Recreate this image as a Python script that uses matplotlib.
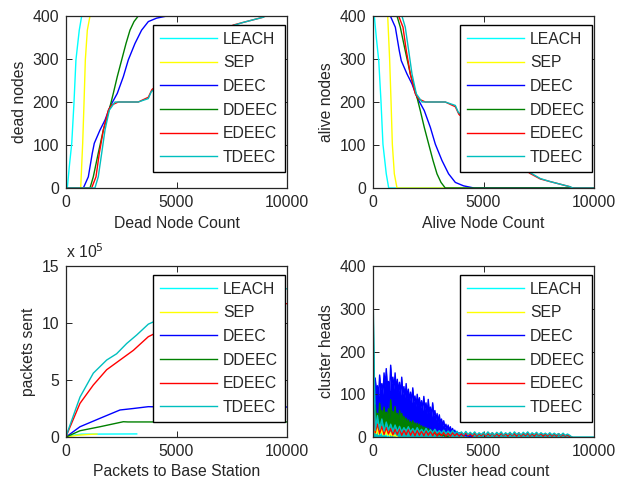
import numpy as np
import matplotlib
matplotlib.use('Agg')
import matplotlib.pyplot as plt

# ---------------- data ----------------
protocols = ['LEACH', 'SEP', 'DEEC', 'DDEEC', 'EDEEC', 'TDEEC']
colors = [(0, 1, 1), (1, 1, 0), (0, 0, 1), (0, 0.5, 0), (1, 0, 0), (0, 0.75, 0.75)]

# Dead nodes vs rounds
dead_leach_r = [0, 60, 150, 260, 360, 450, 600, 710, 10000]
dead_leach_v = [0, 0, 50, 104, 197, 298, 367, 400, 400]
dead_sep_r = [0, 665, 755, 815, 875, 965, 1086, 10000]
dead_sep_v = [0, 0, 104, 197, 298, 367, 400, 400]
dead_deec_r = [0, 785, 1010, 1190, 1280, 1540, 1765, 1990, 2320, 2595, 2820, 3120, 3420, 3725, 4100, 4570, 10000]
dead_deec_v = [0, 0, 26, 81, 104, 135, 158, 189, 220, 259, 298, 336, 367, 387, 395, 400, 400]
dead_ddeec_r = [0, 1086, 1235, 1460, 1690, 1990, 2140, 2320, 2520, 2715, 2895, 3077, 3270, 10000]
dead_ddeec_v = [0, 0, 26, 81, 135, 189, 220, 259, 298, 336, 367, 387, 400, 400]
dead_edeec_r = [0, 1160, 1357, 1508, 1690, 1915, 2065, 2370, 3270, 3725, 3890, 5000, 6000, 7100, 7570, 8010, 8910, 9000, 10000]
dead_edeec_v = [0, 0, 26, 81, 135, 181, 193, 200, 200, 211, 229, 275, 320, 366, 379, 385, 397, 400, 400]
dead_tdeec_r = [0, 1310, 1460, 1615, 1765, 1960, 2217, 3270, 3725, 3860, 5000, 6000, 7100, 7570, 8010, 8910, 9050, 10000]
dead_tdeec_v = [0, 0, 26, 81, 135, 181, 200, 200, 208, 224, 270, 318, 364, 378, 385, 397, 400, 400]

# Alive nodes vs rounds
alive_leach_v = [400, 400, 350, 296, 203, 102, 33, 0, 0]
alive_sep_v = [400, 400, 296, 203, 102, 33, 0, 0]
alive_deec_v = [400, 400, 374, 319, 296, 265, 242, 211, 180, 141, 102, 64, 33, 13, 5, 0, 0]
alive_ddeec_v = [400, 400, 374, 319, 265, 211, 180, 141, 102, 64, 33, 13, 0, 0]
alive_edeec_v = [400, 400, 374, 319, 265, 219, 207, 200, 200, 189, 171, 125, 80, 34, 21, 15, 3, 0, 0]
alive_tdeec_v = [400, 400, 374, 319, 265, 219, 200, 200, 192, 176, 130, 82, 36, 22, 15, 3, 0, 0]

# Packets to base station (x 10^5)
pk_leach_r = [0, 300, 700, 3200]
pk_leach_v = [0, 0.15, 0.25, 0.27]
pk_sep_r = [0, 500, 1000, 1400]
pk_sep_v = [0, 0.15, 0.22, 0.26]
pk_deec_r = [0, 633, 1538, 2443, 3047, 3725, 4500, 10000]
pk_deec_v = [0, 0.9, 1.64, 2.37, 2.5, 2.66, 2.63, 2.63]
pk_ddeec_r = [0, 633, 1538, 2594, 2800, 10000]
pk_ddeec_v = [0, 0.55, 0.9, 1.34, 1.32, 1.32]
pk_edeec_r = [0, 100, 633, 1236, 1840, 2443, 3047, 3725, 5000, 6500, 8000, 9000, 10000]
pk_edeec_v = [0, 0.5, 2.95, 4.56, 5.9, 6.75, 7.6, 8.8, 10.0, 10.9, 11.4, 11.65, 11.7]
pk_tdeec_r = [0, 100, 633, 1236, 1840, 2290, 2745, 3200, 3725, 5000, 6500, 8000, 9000, 10000]
pk_tdeec_v = [0, 0.6, 3.5, 5.6, 6.75, 7.3, 8.2, 8.95, 9.9, 11.0, 12.0, 12.7, 12.95, 13.0]

# Cluster heads per round (sampled)
ch_leach_step = 50
ch_leach_v = [40, 12, 35, 10, 30, 8, 25, 6, 20, 5, 15, 4, 10, 2, 5, 0]
ch_sep_step = 50
ch_sep_v = [30, 10, 25, 8, 22, 6, 28, 9, 20, 5, 18, 6, 15, 4, 12, 3, 10, 3, 8, 2, 5, 1, 0]
ch_deec_step = 50
ch_deec_v = [140, 105, 138, 110, 120, 95, 145, 112, 125, 100,
             150, 118, 160, 120, 130, 108, 168, 125, 140, 112,
             150, 110, 135, 105, 128, 98, 140, 100, 118, 92,
             125, 90, 112, 85, 105, 80, 115, 82, 96, 72,
             100, 75, 92, 68, 85, 62, 95, 65, 80, 55,
             88, 58, 70, 48, 80, 50, 62, 40, 55, 35,
             52, 32, 42, 26, 38, 22, 30, 18, 28, 15,
             24, 12, 20, 10, 16, 8, 13, 6, 10, 5,
             8, 4, 6, 3, 5, 2, 4, 1, 3, 1, 2]
ch_ddeec_step = 50
ch_ddeec_v = [60, 40, 75, 45, 55, 38, 79, 50, 62, 42,
              70, 48, 58, 40, 66, 45, 87, 52, 60, 40,
              71, 45, 55, 36, 62, 40, 55, 34, 48, 30,
              44, 28, 40, 27, 36, 24, 38, 24, 33, 21,
              32, 20, 30, 18, 26, 16, 24, 14, 22, 12,
              20, 11, 18, 9, 14, 8, 12, 6, 10, 5,
              8, 4, 6, 3, 5, 2, 3, 1, 2]
ch_edeec_step = 100
ch_edeec_v = [80, 10, 30, 8, 25, 6, 22, 7, 20, 5,
              18, 6, 20, 4, 16, 5, 18, 4, 15, 3,
              16, 4, 14, 3, 15, 4, 13, 3, 12, 2,
              10, 3, 11, 2, 9, 2, 10, 3, 8, 2,
              9, 2, 10, 3, 8, 2, 9, 2, 8, 3,
              9, 2, 8, 3, 10, 2, 8, 2, 9, 3,
              8, 2, 9, 3, 8, 2, 10, 2, 8, 3,
              9, 2, 8, 2, 9, 3, 8, 2, 7, 2,
              8, 2, 7, 2, 8, 2, 6, 2, 5, 1,
              0]
ch_tdeec_step = 100
ch_tdeec_v = [344, 15, 50, 18, 42, 14, 35, 16, 30, 14,
              28, 13, 25, 12, 22, 14, 24, 12, 20, 11,
              22, 12, 18, 10, 20, 11, 17, 10, 18, 9,
              15, 9, 16, 8, 14, 8, 15, 8, 13, 7,
              12, 6, 13, 6, 11, 6, 12, 5, 10, 6,
              11, 5, 12, 6, 10, 5, 11, 6, 12, 5,
              10, 6, 11, 5, 12, 6, 10, 5, 11, 6,
              12, 5, 10, 6, 11, 5, 10, 6, 9, 5,
              10, 5, 9, 5, 8, 4, 9, 4, 7, 4,
              0, 0, 0, 0, 0, 0, 0, 0, 0, 0, 0]

# ---------------- figure ----------------
plt.rcParams['font.family'] = ['Liberation Sans', 'DejaVu Sans']
plt.rcParams['path.simplify'] = False
FS = 11.3
LW = 1.0
TXT = '#262626'

fig = plt.figure(figsize=(6.17, 4.82), dpi=100)
fig.patch.set_facecolor('white')
W, H = 617.0, 482.0

def add_ax(x0, x1, ytop, ybot):
    return fig.add_axes([x0 / W, (H - ybot) / H, (x1 - x0) / W, (ybot - ytop) / H])

ax1 = add_ax(66, 287, 16, 188)
ax2 = add_ax(373, 594, 16, 188)
ax3 = add_ax(66, 287, 266, 437)
ax4 = add_ax(373, 594, 266, 437)

def style(ax, xlabel, ylabel, ymax, yticks):
    ax.set_xlim(0, 10000)
    ax.set_ylim(0, ymax)
    ax.set_xticks([0, 5000, 10000])
    ax.set_yticks(yticks)
    ax.tick_params(direction='in', top=True, right=True, length=4, width=0.7,
                   labelsize=FS, pad=5, colors=TXT, labelcolor=TXT)
    for s in ax.spines.values():
        s.set_linewidth(0.9)
        s.set_color(TXT)
    ax.set_xlabel(xlabel, fontsize=FS, labelpad=4, color=TXT)
    ax.set_ylabel(ylabel, fontsize=FS, labelpad=4, color=TXT)
    leg = ax.legend(loc='upper right', bbox_to_anchor=(0.991, 0.95), borderaxespad=0,
                    fancybox=False, edgecolor='black', framealpha=1, fontsize=FS,
                    handlelength=3.6, handletextpad=0.4, labelspacing=0.55, borderpad=0.45)
    leg.get_frame().set_linewidth(1.0)
    leg.set_zorder(10)
    for t in leg.get_texts():
        t.set_color(TXT)

# dead nodes
dead_r = [dead_leach_r, dead_sep_r, dead_deec_r, dead_ddeec_r, dead_edeec_r, dead_tdeec_r]
dead_v = [dead_leach_v, dead_sep_v, dead_deec_v, dead_ddeec_v, dead_edeec_v, dead_tdeec_v]
for r, v, c, n in zip(dead_r, dead_v, colors, protocols):
    ax1.plot(r, v, color=c, lw=LW, label=n)
style(ax1, 'Dead Node Count', 'dead nodes', 400, [0, 100, 200, 300, 400])

# alive nodes
alive_v = [alive_leach_v, alive_sep_v, alive_deec_v, alive_ddeec_v, alive_edeec_v, alive_tdeec_v]
for r, v, c, n in zip(dead_r, alive_v, colors, protocols):
    ax2.plot(r, v, color=c, lw=LW, label=n)
style(ax2, 'Alive Node Count', 'alive nodes', 400, [0, 100, 200, 300, 400])

# packets
pk_r = [pk_leach_r, pk_sep_r, pk_deec_r, pk_ddeec_r, pk_edeec_r, pk_tdeec_r]
pk_v = [pk_leach_v, pk_sep_v, pk_deec_v, pk_ddeec_v, pk_edeec_v, pk_tdeec_v]
for r, v, c, n in zip(pk_r, pk_v, colors, protocols):
    ax3.plot(r, v, color=c, lw=LW, label=n)
style(ax3, 'Packets to Base Station', 'packets sent', 15, [0, 5, 10, 15])
ax3.text(0.0, 1.045, r'x 10$^{5}$', transform=ax3.transAxes, fontsize=FS,
         ha='left', va='baseline', color=TXT)

# cluster heads (dense per-round traces appear as filled spikes)
ch_steps = [ch_leach_step, ch_sep_step, ch_deec_step, ch_ddeec_step, ch_edeec_step, ch_tdeec_step]
ch_v = [ch_leach_v, ch_sep_v, ch_deec_v, ch_ddeec_v, ch_edeec_v, ch_tdeec_v]
for st, v, c, n in zip(ch_steps, ch_v, colors, protocols):
    x = np.arange(len(v)) * st
    ax4.fill_between(x, v, color=c, lw=0)
    ax4.plot(x, v, color=c, lw=LW, label=n)
style(ax4, 'Cluster head count', 'cluster heads', 400, [0, 100, 200, 300, 400])

fig.savefig('out.png', dpi=100, facecolor='white')
